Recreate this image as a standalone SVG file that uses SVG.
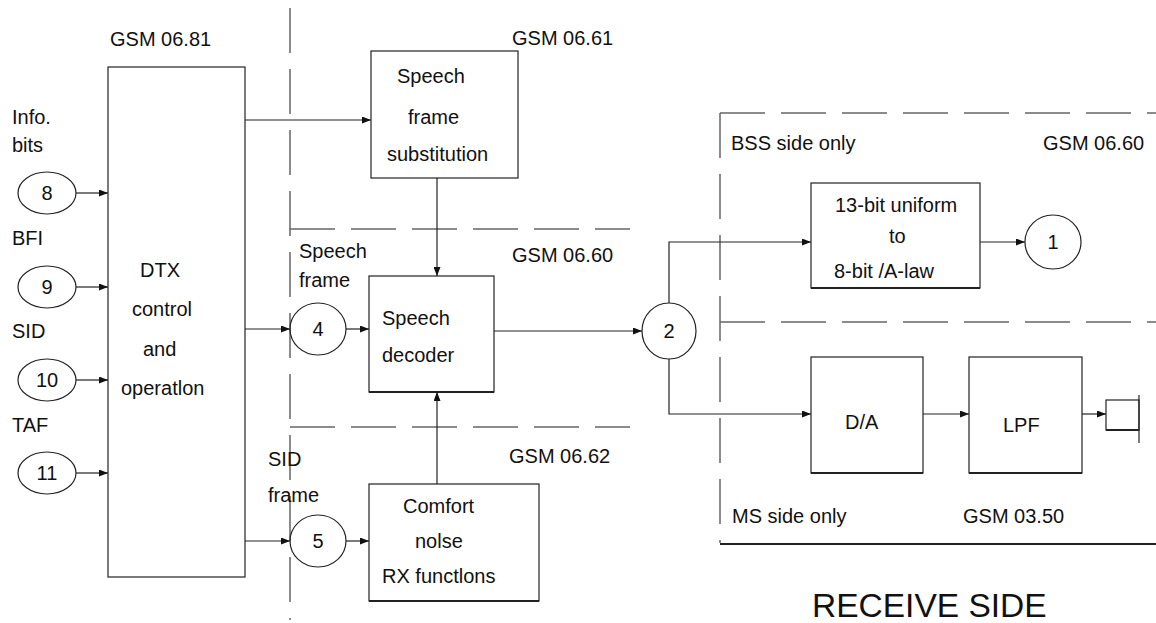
<svg xmlns="http://www.w3.org/2000/svg" width="1156" height="623" viewBox="0 0 1156 623">
<style>
text{font-family:"Liberation Sans",Arial,sans-serif;font-size:20px;fill:#111}
.mid{text-anchor:middle}
.box{fill:none;stroke:#222;stroke-width:1.2}
.base{stroke:#222;stroke-width:2.2}
.circ{fill:none;stroke:#222;stroke-width:1.2}
.dash{fill:none;stroke:#666;stroke-width:1.5;stroke-dasharray:45 16}
.conn{fill:none;stroke:#222;stroke-width:1.2}
.big{font-size:33.5px}
</style>
<defs>
<marker id="ah" markerWidth="9" markerHeight="7" refX="9" refY="3.5" orient="auto" markerUnits="userSpaceOnUse">
<path d="M0,0 L9,3.5 L0,7 Z" fill="#111"/>
</marker>
</defs>
<rect width="1156" height="623" fill="#fff"/>
<g id="boundaries">
<line class="dash" x1="290" y1="8" x2="290" y2="620"/>
<line class="dash" x1="290" y1="229" x2="630" y2="229"/>
<line class="dash" x1="290" y1="427" x2="630" y2="427"/>
<line class="dash" x1="720" y1="113" x2="1156" y2="113"/>
<line class="dash" x1="720" y1="113" x2="720" y2="543"/>
<line class="dash" x1="720" y1="322" x2="1156" y2="322"/>
<line x1="720" y1="544" x2="1156" y2="544" stroke="#222" stroke-width="2"/>
</g>
<g id="labels">
<text x="110" y="46">GSM 06.81</text>
<text x="512" y="45">GSM 06.61</text>
<text x="512" y="262">GSM 06.60</text>
<text x="509" y="463">GSM 06.62</text>
<text x="12" y="124">Info.</text>
<text x="12" y="152">bits</text>
<text x="12" y="245">BFI</text>
<text x="12" y="338">SID</text>
<text x="12" y="432">TAF</text>
<text x="299" y="258">Speech</text>
<text x="299" y="287">frame</text>
<text x="268" y="466">SID</text>
<text x="268" y="502">frame</text>
<text x="731" y="150">BSS side only</text>
<text x="1043" y="150">GSM 06.60</text>
<text x="732" y="523">MS side only</text>
<text x="963" y="523">GSM 03.50</text>
<text class="big" x="812" y="617">RECEIVE SIDE</text>
</g>
<g id="n8"><ellipse class="circ" cx="47" cy="193" rx="29" ry="21"/><text class="mid" x="47" y="200">8</text></g>
<g id="n9"><ellipse class="circ" cx="47" cy="287" rx="29" ry="21"/><text class="mid" x="47" y="294">9</text></g>
<g id="n10"><ellipse class="circ" cx="47" cy="380" rx="29" ry="21"/><text class="mid" x="47" y="387">10</text></g>
<g id="n11"><ellipse class="circ" cx="47" cy="473" rx="29" ry="21"/><text class="mid" x="47" y="480">11</text></g>
<g id="dtx">
<rect class="box" x="108" y="67" width="137" height="510"/>
<text x="140" y="277">DTX</text>
<text x="132" y="316">control</text>
<text x="143" y="356">and</text>
<text x="121" y="395">operatlon</text>
</g>
<g id="sfs">
<rect class="box" x="371" y="51" width="147" height="127"/>
<text x="397" y="83">Speech</text>
<text x="408" y="124">frame</text>
<text x="387" y="161">substitution</text>
</g>
<g id="n4"><ellipse class="circ" cx="318" cy="329" rx="28" ry="26"/><text class="mid" x="318" y="336">4</text></g>
<g id="n5"><ellipse class="circ" cx="318" cy="541" rx="28" ry="26"/><text class="mid" x="318" y="548">5</text></g>
<g id="decoder">
<rect class="box" x="369" y="276" width="125" height="116"/>
<line class="base" x1="369" y1="392" x2="494" y2="392"/>
<text x="382" y="325">Speech</text>
<text x="382" y="362">decoder</text>
</g>
<g id="comfort">
<rect class="box" x="369" y="484" width="170" height="117"/>
<line class="base" x1="369" y1="601" x2="539" y2="601"/>
<text x="403" y="513">Comfort</text>
<text x="415" y="548">nolse</text>
<text x="382" y="583">RX functlons</text>
</g>
<g id="n2"><ellipse class="circ" cx="669" cy="331" rx="27" ry="28"/><text class="mid" x="669" y="338">2</text></g>
<g id="conv">
<rect class="box" x="811" y="183" width="169" height="105"/>
<line class="base" x1="811" y1="288" x2="980" y2="288"/>
<text x="835" y="212">13-bit uniform</text>
<text x="889" y="243">to</text>
<text x="834" y="278">8-bit /A-law</text>
</g>
<g id="n1"><ellipse class="circ" cx="1053" cy="242" rx="28" ry="27"/><text class="mid" x="1053" y="249">1</text></g>
<g id="da">
<rect class="box" x="811" y="357" width="112" height="116"/>
<line class="base" x1="811" y1="473" x2="923" y2="473"/>
<text x="845" y="429">D/A</text>
</g>
<g id="lpf">
<rect class="box" x="969" y="357" width="113" height="116"/>
<line class="base" x1="969" y1="473" x2="1082" y2="473"/>
<text x="1003" y="432">LPF</text>
</g>
<g id="speaker">
<rect class="box" x="1106" y="400" width="33" height="30"/>
<line class="base" x1="1106" y1="430" x2="1139" y2="430"/>
<line class="conn" x1="1139" y1="395" x2="1139" y2="443"/>
</g>
<g id="connectors">
<line class="conn" x1="76" y1="193" x2="108" y2="193" marker-end="url(#ah)"/>
<line class="conn" x1="76" y1="287" x2="108" y2="287" marker-end="url(#ah)"/>
<line class="conn" x1="76" y1="380" x2="108" y2="380" marker-end="url(#ah)"/>
<line class="conn" x1="76" y1="473" x2="108" y2="473" marker-end="url(#ah)"/>
<line class="conn" x1="245" y1="120" x2="371" y2="120" marker-end="url(#ah)"/>
<line class="conn" x1="245" y1="329" x2="290" y2="329" marker-end="url(#ah)"/>
<line class="conn" x1="245" y1="541" x2="290" y2="541" marker-end="url(#ah)"/>
<line class="conn" x1="346" y1="329" x2="369" y2="329" marker-end="url(#ah)"/>
<line class="conn" x1="346" y1="541" x2="369" y2="541" marker-end="url(#ah)"/>
<line class="conn" x1="437" y1="178" x2="437" y2="276" marker-end="url(#ah)"/>
<line class="conn" x1="437" y1="484" x2="437" y2="392" marker-end="url(#ah)"/>
<line class="conn" x1="494" y1="331" x2="642" y2="331" marker-end="url(#ah)"/>
<path class="conn" d="M669,303 V242 H811" marker-end="url(#ah)"/>
<path class="conn" d="M669,359 V414 H811" marker-end="url(#ah)"/>
<line class="conn" x1="980" y1="242" x2="1025" y2="242" marker-end="url(#ah)"/>
<line class="conn" x1="923" y1="414" x2="969" y2="414" marker-end="url(#ah)"/>
<line class="conn" x1="1082" y1="414" x2="1106" y2="414" marker-end="url(#ah)"/>
</g>
</svg>
